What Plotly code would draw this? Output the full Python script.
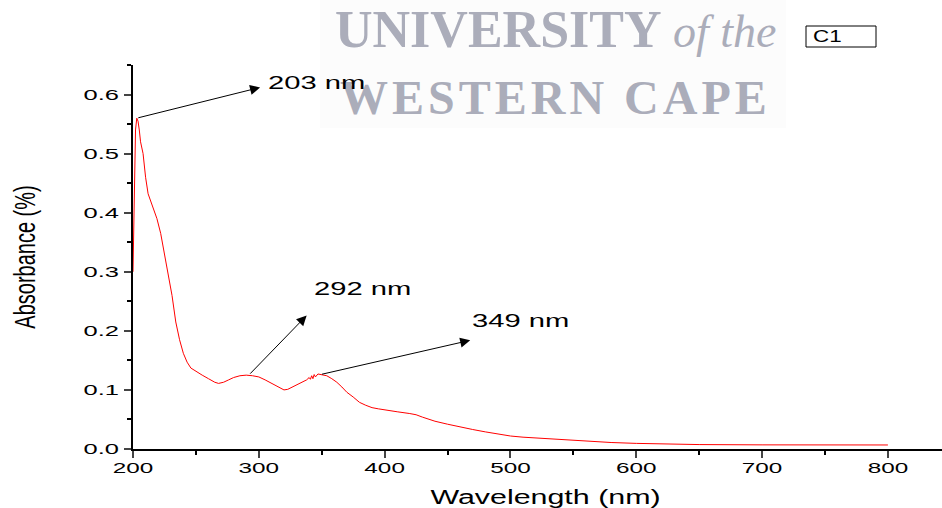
import plotly.graph_objects as go

# UV-Vis absorption spectrum of sample C1
wavelength = [200, 201, 202, 203, 204, 205, 206, 208, 210, 212, 216, 219, 222, 225, 228,
              231, 234, 237, 240, 243, 246, 250, 255, 260, 265, 268, 272, 276, 280, 285,
              290, 295, 300, 305, 310, 315, 320, 323, 327, 331, 335, 338, 340, 341, 342,
              343, 344, 345, 347, 349, 354, 358, 362, 366, 370, 375, 380, 385, 390, 395,
              400, 410, 420, 425, 430, 440, 450, 460, 470, 480, 490, 500, 510, 525, 540,
              560, 580, 600, 620, 650, 700, 750, 800]
absorbance = [0.30, 0.46, 0.54, 0.56, 0.555, 0.54, 0.52, 0.50, 0.46, 0.432, 0.41, 0.39, 0.365,
              0.33, 0.29, 0.26, 0.215, 0.185, 0.162, 0.147, 0.137, 0.131, 0.125, 0.119, 0.113,
              0.111, 0.113, 0.117, 0.121, 0.124, 0.125, 0.124, 0.122, 0.117, 0.111, 0.105,
              0.100, 0.101, 0.105, 0.109, 0.113, 0.117, 0.121, 0.118, 0.124, 0.119, 0.126,
              0.122, 0.127, 0.126, 0.124, 0.119, 0.113, 0.105, 0.096, 0.088, 0.079, 0.074,
              0.070, 0.068, 0.066, 0.063, 0.060, 0.058, 0.054, 0.047, 0.042, 0.037, 0.033,
              0.029, 0.025, 0.022, 0.020, 0.018, 0.016, 0.013, 0.011, 0.0095, 0.0085, 0.0075,
              0.007, 0.0068, 0.0068]

# labelled peaks: wavelength, label anchor (nm, A) and arrow head (nm, A)
peak_nm = [203, 292, 349]
peak_labels = ["203 nm", "292 nm", "349 nm"]
label_pos = [(306, 0.619), (342, 0.270), (468, 0.216)]
head_pos = [(301, 0.612), (338, 0.226), (468, 0.184)]

x_ticks = [200, 300, 400, 500, 600, 700, 800]
y_ticks = [0.0, 0.1, 0.2, 0.3, 0.4, 0.5, 0.6]


def value_at(nm):
    # nearest sampled absorbance for a given wavelength
    i = min(range(len(wavelength)), key=lambda k: abs(wavelength[k] - nm))
    return absorbance[i]


def px_x(p):
    return (p - 133) / 809


def px_y(p):
    return (449 - p) / 384


fig = go.Figure()
fig.add_trace(go.Scatter(x=wavelength, y=absorbance, mode="lines",
                         line=dict(color="#ff0000", width=1), showlegend=False))

grey = "#abadba"
annotations = [
    dict(x=px_x(333), y=px_y(29), xref="paper", yref="paper", xanchor="left", yanchor="middle",
         align="left",
         text="<b>UNIVERSITY</b><span style='font-size:46px'><i> of the</i></span>",
         showarrow=False, font=dict(family="Liberation Serif", size=52, color=grey)),
    dict(x=px_x(338), y=px_y(97), xref="paper", yref="paper", xanchor="left", yanchor="middle",
         align="left", text="<b>WESTERN CAPE</b>", showarrow=False,
         font=dict(family="Liberation Serif", size=48, color=grey)),
]

for nm, lab, (lx, ly), (hx, hy) in zip(peak_nm, peak_labels, label_pos, head_pos):
    annotations.append(dict(x=hx, y=hy, ax=nm, ay=value_at(nm), xref="x", yref="y",
                            axref="x", ayref="y", text="", showarrow=True,
                            arrowhead=2, arrowsize=2, arrowwidth=1, arrowcolor="black"))
    annotations.append(dict(x=lx, y=ly, xref="x", yref="y", xanchor="left", yanchor="middle",
                            text=lab, showarrow=False,
                            font=dict(family="Liberation Sans", size=18, color="black")))

annotations.append(dict(x=px_x(811), y=px_y(36), xref="paper", yref="paper",
                        xanchor="left", yanchor="middle", text="C1", showarrow=False,
                        font=dict(family="Liberation Sans", size=16, color="black")))

fig.update_layout(
    width=942, height=508,
    margin=dict(l=133, r=0, t=65, b=59),
    paper_bgcolor="white", plot_bgcolor="white",
    annotations=annotations,
    shapes=[
        dict(type="rect", xref="paper", yref="paper", x0=px_x(320), x1=px_x(786),
             y0=px_y(128), y1=px_y(0), line=dict(width=0), fillcolor="#fcfcfc", layer="below"),
        dict(type="rect", xref="paper", yref="paper", x0=px_x(806), x1=px_x(876),
             y0=px_y(47), y1=px_y(26), line=dict(color="black", width=1),
             fillcolor="white", layer="above"),
    ],
    xaxis=dict(range=[200, 843], tickvals=x_ticks, ticks="outside", ticklen=7, tickwidth=2,
               showline=True, linewidth=2, linecolor="black", showgrid=False, zeroline=False,
               ticklabelstandoff=-3,
               tickfont=dict(family="Liberation Sans", size=15, color="black"),
               minor=dict(dtick=50, ticks="outside", ticklen=4, tickwidth=2, tickcolor="black"),
               title=dict(text="Wavelength (nm)", standoff=15,
                          font=dict(family="Liberation Sans", size=20, color="black"))),
    yaxis=dict(range=[0, 0.65], tickvals=y_ticks, tickformat=".1f", ticks="outside",
               ticklen=7, tickwidth=2, showline=True, linewidth=2, linecolor="black",
               showgrid=False, zeroline=False, ticklabelstandoff=2,
               tickfont=dict(family="Liberation Sans", size=15, color="black"),
               minor=dict(dtick=0.05, ticks="outside", ticklen=4, tickwidth=2, tickcolor="black"),
               title=dict(text="Absorbance (%)", standoff=60,
                          font=dict(family="Liberation Sans", size=20, color="black"))),
)

# Widen the sans-serif lettering horizontally (screen x) about its anchor point,
# and letter-space the serif banner.
post_js = """
var gd = document.getElementById('{plot_id}');
var svg = gd.querySelector('svg.main-svg');
function stretch(el, k, mode, shift) {
  var M = el.getCTM(); var b = el.getBBox();
  var pts = [[b.x, b.y], [b.x + b.width, b.y], [b.x, b.y + b.height], [b.x + b.width, b.y + b.height]];
  var xs = pts.map(function (p) { return M.a * p[0] + M.c * p[1] + M.e; });
  var lo = Math.min.apply(null, xs), hi = Math.max.apply(null, xs);
  var ax = mode === 'left' ? lo : (mode === 'right' ? hi : (lo + hi) / 2);
  var S = svg.createSVGMatrix(); S.a = k; S.b = 0; S.c = 0; S.d = 1;
  S.e = ax * (1 - k) + (shift || 0); S.f = 0;
  var P = el.parentNode.getCTM();
  var T = P.inverse().multiply(S).multiply(M);
  el.setAttribute('transform', 'matrix(' + [T.a, T.b, T.c, T.d, T.e, T.f].join(',') + ')');
}
function each(sel, k, mode, shift) {
  gd.querySelectorAll(sel).forEach(function (el) { stretch(el, k, mode, shift); });
}
each('.xtick text', 1.62, 'center');
each('.ytick text', 1.7, 'right');
each('.g-xtitle text', 1.52, 'center', 8);
each('.g-ytitle text', 1.45, 'center');
[3, 5, 7].forEach(function (i) {
  each('.annotation[data-index="' + i + '"] text', 1.62, 'left');
});
each('.annotation[data-index="8"] text', 1.4, 'left');
gd.querySelectorAll('.annotation[data-index="1"] text').forEach(function (el) { el.style.letterSpacing = '4px'; });
"""

fig.write_html("out.html", post_script=post_js)
